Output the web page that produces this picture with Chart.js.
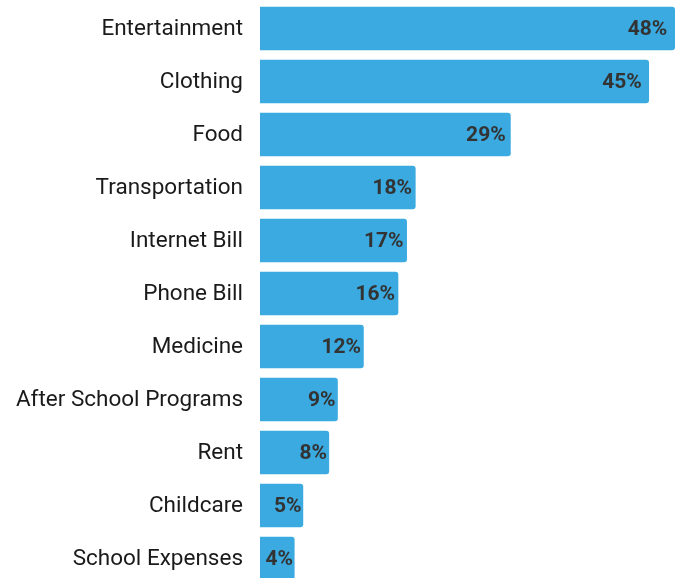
<!DOCTYPE html>
<html>
<head>
<meta charset="utf-8">
<script src="https://cdn.jsdelivr.net/npm/chart.js@4"></script>
<style>
  html, body { margin: 0; padding: 0; background: #fff; overflow: hidden; }
  #wrap { width: 683px; height: 586px; position: relative; }
</style>
</head>
<body>
<div id="wrap"><canvas id="spendChart"></canvas></div>
<script>
const categories = ['Entertainment', 'Clothing', 'Food', 'Transportation', 'Internet Bill',
    'Phone Bill', 'Medicine', 'After School Programs', 'Rent', 'Childcare', 'School Expenses']
const shares = [48, 45, 29, 18, 17, 16, 12, 9, 8, 5, 4]

const barColor = '#3aaae0'

// writes the percentage just inside the end of each bar
// (inset grows a little with bar length so short bars still fit the text)
const valueLabels = {
    id: 'valueLabels',
    afterDatasetsDraw(chart) {
        const ctx = chart.ctx
        const meta = chart.getDatasetMeta(0)
        ctx.save()
        ctx.font = 'bold 21px Roboto'
        ctx.fillStyle = '#333333'
        ctx.textAlign = 'right'
        ctx.textBaseline = 'middle'
        meta.data.forEach((bar, i) => {
            const inset = 1 + 0.016 * (bar.x - bar.base)
            ctx.fillText(shares[i] + '%', bar.x - inset, bar.y + 1)
        })
        ctx.restore()
    }
}

new Chart(document.getElementById('spendChart'), {
    type: 'bar',
    data: {
        labels: categories,
        datasets: [{
            data: shares,
            backgroundColor: barColor,
            borderRadius: 3,
            borderSkipped: 'start',
            barPercentage: 0.82,
            categoryPercentage: 1
        }]
    },
    options: {
        indexAxis: 'y',
        responsive: true,
        maintainAspectRatio: false,
        animation: false,
        layout: { padding: { top: 2, bottom: 1, right: 8, left: 0 } },
        plugins: {
            legend: { display: false },
            tooltip: { enabled: false }
        },
        scales: {
            x: {
                display: false,
                min: 0,
                max: 48
            },
            y: {
                // fixed label column, no extra room above/below the first and last rows
                afterFit(scale) {
                    scale.width = 260
                    scale.paddingTop = 0
                    scale.paddingBottom = 0
                },
                grid: { display: false, drawTicks: false },
                border: { display: false },
                ticks: {
                    padding: 17,
                    labelOffset: 1,
                    color: '#1a1a1a',
                    font: { family: 'Roboto', size: 22.5 }
                }
            }
        }
    },
    plugins: [valueLabels]
});
</script>
</body>
</html>
